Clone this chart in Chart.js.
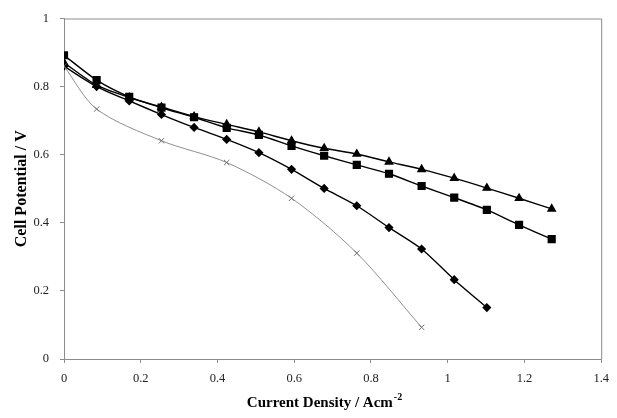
<!DOCTYPE html>
<html>
<head>
<meta charset="utf-8">
<title>Cell Potential vs Current Density</title>
<script src="https://cdn.jsdelivr.net/npm/chart.js@4.4.1/dist/chart.umd.min.js"></script>
<style>
    html, body { margin: 0; padding: 0; background: #fff; }
    #wrap { width: 617px; height: 418px; position: relative; }
</style>
</head>
<body>
<div id="wrap"><canvas id="polarisation-chart"></canvas></div>
<script>
// Current density (A/cm2) at which each cell was measured
const densityFull = [0, 0.085, 0.17, 0.254, 0.339, 0.424, 0.508, 0.593, 0.678, 0.763, 0.847, 0.932, 1.017, 1.102, 1.186, 1.271];
const densityDiamond = [0, 0.085, 0.17, 0.254, 0.339, 0.424, 0.508, 0.593, 0.678, 0.763, 0.847, 0.932, 1.017, 1.102];
const densityCross = [0, 0.085, 0.254, 0.424, 0.593, 0.763, 0.932];

// Cell potential (V) for each series
const triangleVolts = [0.87, 0.804, 0.768, 0.74, 0.712, 0.689, 0.667, 0.641, 0.619, 0.602, 0.579, 0.557, 0.531, 0.502, 0.472, 0.441];
const squareVolts = [0.892, 0.819, 0.77, 0.738, 0.71, 0.679, 0.658, 0.626, 0.597, 0.57, 0.544, 0.508, 0.474, 0.438, 0.394, 0.352];
const diamondVolts = [0.86, 0.80, 0.758, 0.718, 0.68, 0.645, 0.606, 0.557, 0.501, 0.45, 0.386, 0.323, 0.233, 0.151];
const crossVolts = [0.86, 0.734, 0.641, 0.577, 0.472, 0.311, 0.093];

const serif = '"Liberation Serif", "Times New Roman", serif';
const axisGrey = '#8c8c8c';

function toPoints(xs, ys) {
    return xs.map((x, i) => ({ x: x, y: ys[i] }));
}

// Excel style labels: 0, 0.2 ... 1
function tickText(value) {
    return String(Number(value.toFixed(1)));
}

// box round the plot area and the x title with its superscript
const framePlugin = {
    id: 'frame',
    afterDraw(chart) {
        const { ctx, chartArea } = chart;
        ctx.save();
        ctx.strokeStyle = axisGrey;
        ctx.lineWidth = 1;
        ctx.beginPath();
        ctx.moveTo(chartArea.left, chartArea.top + 0.5);
        ctx.lineTo(chartArea.right + 0.5, chartArea.top + 0.5);
        ctx.lineTo(chartArea.right + 0.5, chartArea.bottom);
        ctx.stroke();

        // x axis title
        const main = 'Current Density / Acm';
        const sup = '-2';
        ctx.fillStyle = '#000';
        ctx.textBaseline = 'alphabetic';
        ctx.font = 'bold 15px ' + serif;
        const mainW = ctx.measureText(main).width;
        ctx.font = 'bold 10px ' + serif;
        const supW = ctx.measureText(sup).width;
        const startX = 324 - (mainW + supW) / 2;
        ctx.font = 'bold 15px ' + serif;
        ctx.fillText(main, startX, 407);
        ctx.font = 'bold 10px ' + serif;
        ctx.fillText(sup, startX + mainW + 1, 400);
        ctx.restore();
    }
};

const lineBase = {
    borderColor: '#000',
    backgroundColor: '#000',
    pointBorderColor: '#000',
    pointBackgroundColor: '#000',
    borderWidth: 1.4,
    tension: 0.25,
    fill: false
};

new Chart(document.getElementById('polarisation-chart'), {
    type: 'line',
    data: {
        datasets: [
            {
                ...lineBase,
                label: 'Cross',
                data: toPoints(densityCross, crossVolts),
                borderColor: '#8f8f8f',
                pointBorderColor: '#707070',
                borderWidth: 1,
                pointStyle: 'crossRot',
                pointRadius: 3.8,
                pointBorderWidth: 1,
                tension: 0.3
            },
            {
                ...lineBase,
                label: 'Diamond',
                data: toPoints(densityDiamond, diamondVolts),
                pointStyle: 'rectRot',
                pointRadius: 3.6
            },
            {
                ...lineBase,
                label: 'Square',
                data: toPoints(densityFull, squareVolts),
                pointStyle: 'rect',
                pointRadius: 4.8
            },
            {
                ...lineBase,
                label: 'Triangle',
                data: toPoints(densityFull, triangleVolts),
                pointStyle: 'triangle',
                pointRadius: 4.2
            }
        ]
    },
    options: {
        responsive: true,
        maintainAspectRatio: false,
        animation: false,
        layout: { padding: { left: 0, right: 13, top: 18, bottom: 0 } },
        plugins: {
            legend: { display: false },
            tooltip: { enabled: false }
        },
        scales: {
            x: {
                type: 'linear',
                min: 0,
                max: 1.4,
                ticks: {
                    stepSize: 0.2,
                    color: '#222',
                    padding: 8,
                    font: { family: serif, size: 12.5 },
                    callback: tickText
                },
                grid: {
                    drawOnChartArea: false,
                    drawTicks: true,
                    tickLength: 4,
                    color: axisGrey
                },
                border: { display: true, color: axisGrey },
                afterFit: scale => { scale.height = 59; }
            },
            y: {
                min: 0,
                max: 1,
                ticks: {
                    stepSize: 0.2,
                    color: '#222',
                    padding: 11,
                    font: { family: serif, size: 12.5 },
                    callback: tickText
                },
                grid: {
                    drawOnChartArea: false,
                    drawTicks: true,
                    tickLength: 4,
                    color: axisGrey
                },
                border: { display: true, color: axisGrey },
                title: {
                    display: true,
                    text: 'Cell Potential / V',
                    color: '#000',
                    padding: { top: 12, bottom: 0 },
                    font: { family: serif, size: 16, weight: 'bold' }
                },
                afterFit: scale => { scale.width = 64; }
            }
        }
    },
    plugins: [framePlugin]
});
</script>
</body>
</html>
